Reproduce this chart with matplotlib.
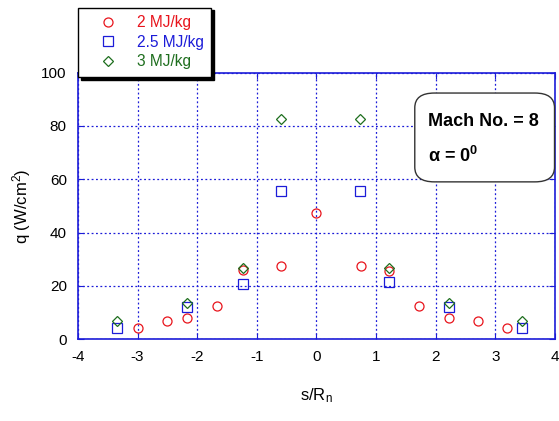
import matplotlib
matplotlib.use("Agg")
import matplotlib.pyplot as plt
from matplotlib.patches import FancyBboxPatch

s_2 = [-3.0, -2.51, -2.17, -1.67, -1.23, -0.59, 0.0, 0.74, 1.22, 1.72, 2.22, 2.71, 3.2]
q_2 = [4.4, 6.8, 8.0, 12.4, 26.0, 27.5, 47.5, 27.5, 25.7, 12.4, 8.0, 6.8, 4.4]
s_25 = [-3.34, -2.17, -1.23, -0.59, 0.73, 1.22, 2.22, 3.45]
q_25 = [4.2, 12.1, 20.6, 55.5, 55.5, 21.4, 12.1, 4.2]
s_3 = [-3.34, -2.17, -1.23, -0.59, 0.73, 1.22, 2.22, 3.45]
q_3 = [6.7, 13.5, 26.7, 82.5, 82.5, 26.7, 13.5, 6.7]
labels = ["2 MJ/kg", "2.5 MJ/kg", "3 MJ/kg"]

plt.rcParams['font.family'] = ['Liberation Sans', 'DejaVu Sans']
plt.rcParams['axes.unicode_minus'] = False
plt.rcParams['mathtext.fontset'] = 'custom'
plt.rcParams['mathtext.rm'] = 'Liberation Sans'
plt.rcParams['mathtext.it'] = 'Liberation Sans:italic'
plt.rcParams['mathtext.bf'] = 'Liberation Sans:bold'
fig = plt.figure(figsize=(5.59, 4.21), dpi=100)
ax = fig.add_axes([0.1395, 0.194, 0.8533, 0.6336])

red = '#e8141c'
blue = '#1c1cd8'
green = '#1e6e1e'
h1, = ax.plot(s_2, q_2, 'o', ms=6.5, mfc='none', mec=red, mew=0.9, label=labels[0])
h2, = ax.plot(s_25, q_25, 's', ms=6.5, mfc='none', mec=blue, mew=0.9, label=labels[1])
h3, = ax.plot(s_3, q_3, 'D', ms=5, mfc='none', mec=green, mew=0.9, label=labels[2])

ax.set_xlim(-4, 4)
ax.set_ylim(0, 100)
ax.set_xticks(range(-4, 5))
ax.set_yticks(range(0, 101, 20))
ax.grid(True, color=blue, linestyle=(0, (1.5, 2)), linewidth=0.9)
for sp in ax.spines.values():
    sp.set_color(blue)
    sp.set_linewidth(1.2)
ax.tick_params(direction='in', color=blue, length=4, top=True, right=True,
               labelsize=11, pad=8)
ax.set_xlabel(r's/R$_\mathregular{n}$', fontsize=12, labelpad=16)
ax.set_ylabel(r'q (W/cm$^\mathregular{2}$)', fontsize=12, labelpad=6)

# legend box with shadow
leg = fig.legend(handles=[h1, h2, h3], labels=labels, loc='upper left',
                 bbox_to_anchor=(0.14, 0.982), frameon=True, fancybox=False,
                 shadow={'color': 'black', 'alpha': 1},
                 fontsize=11.2, handlelength=2.9, handletextpad=0.4, borderpad=0.48,
                 labelspacing=0.3, borderaxespad=0)
leg.get_frame().set_edgecolor('black')
leg.get_frame().set_linewidth(1.0)
for t, c in zip(leg.get_texts(), [red, blue, green]):
    t.set_color(c)

# annotation box
box = FancyBboxPatch((0.742, 0.568), 0.25, 0.211, transform=fig.transFigure,
                     boxstyle='round,pad=0,rounding_size=0.035',
                     fc='white', ec='#333333', lw=1.0, zorder=5)
fig.patches.append(box)
fig.text(0.766, 0.712, 'Mach No. = 8', fontsize=13, fontweight='bold', zorder=6,
         va='center')
fig.text(0.766, 0.630, r'α = 0$^\mathbf{0}$', fontsize=13, fontweight='bold',
         zorder=6, va='center')

fig.savefig('out.png', dpi=100)
